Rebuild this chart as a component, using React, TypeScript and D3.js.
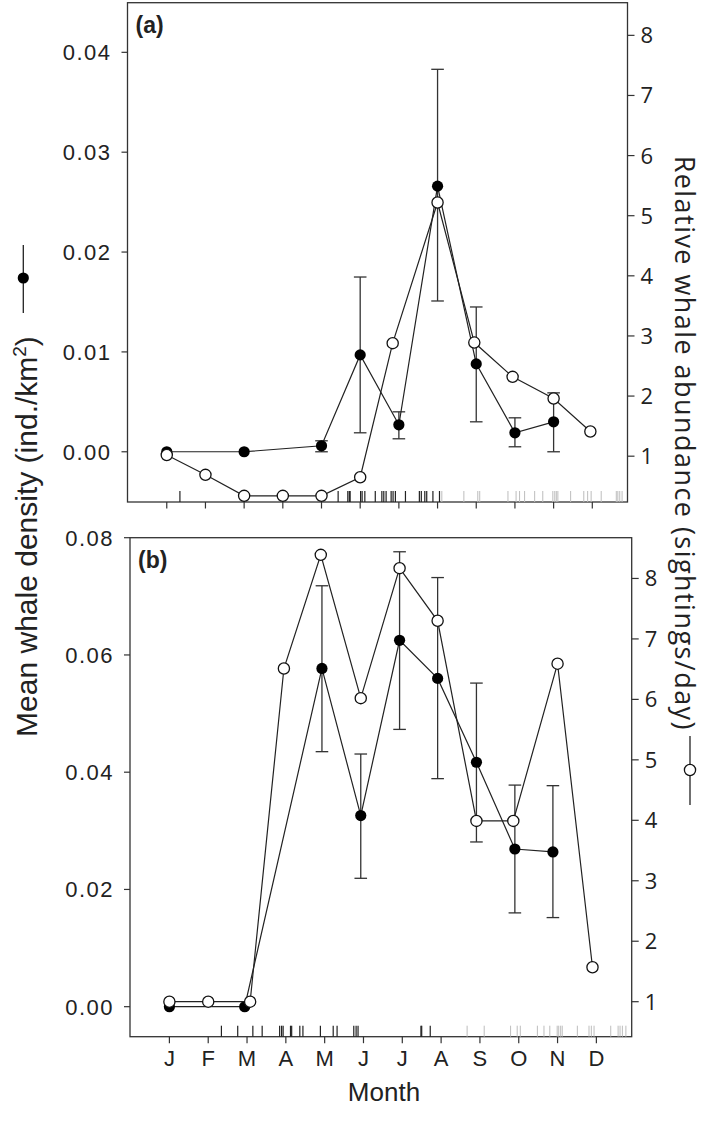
import React from 'react';
import * as d3 from 'd3';

const MONTHS = ['J', 'F', 'M', 'A', 'M', 'J', 'J', 'A', 'S', 'O', 'N', 'D'];
const MONTH_POS = [0, 1, 2, 3, 4, 5, 6, 7, 8, 9, 10, 11];

const DENS_TICKS_A = [0, 0.01, 0.02, 0.03, 0.04];
const DENS_TICKS_B = [0, 0.02, 0.04, 0.06, 0.08];
const ABUND_TICKS = [1, 2, 3, 4, 5, 6, 7, 8];

// (a) density: month position, mean, lower / upper error
const A_DENS_X = [0, 2, 4, 5, 6, 7, 8, 9, 10];
const A_DENS = [0.0, 0.0, 0.0006, 0.0097, 0.0027, 0.0266, 0.0088, 0.0019, 0.003];
const A_DENS_LO = [null, null, 0.0, 0.0019, 0.0013, 0.0151, 0.003, 0.0005, 0.0];
const A_DENS_HI = [null, null, 0.0011, 0.0175, 0.004, 0.0383, 0.0145, 0.0034, 0.0059];
// (a) sightings/day
const A_ABUND_X = [0, 1, 2, 3, 4, 5, 5.84, 7, 7.95, 8.94, 10, 10.95];
const A_ABUND = [1.02, 0.69, 0.34, 0.34, 0.34, 0.65, 2.88, 5.22, 2.89, 2.32, 1.96, 1.41];
// (a) rug (sighting dates, month position)
const A_RUG_DARK = [0.34, 4.43, 4.68, 4.72, 4.74, 5.01, 5.05, 5.12, 5.39, 5.56, 5.61, 5.67, 5.8, 5.85, 5.91, 6.17, 6.53, 6.58, 6.67, 6.72, 6.88, 7.05];
const A_RUG_LIGHT = [7.11, 7.68, 8.04, 8.09, 8.82, 9.03, 9.12, 9.25, 9.51, 9.72, 9.98, 10.03, 10.07, 10.11, 10.44, 10.78, 10.88, 10.97, 11.23, 11.62, 11.66, 11.71, 11.77];

// (b)
const B_DENS_X = [0, 1.94, 3.93, 4.93, 5.93, 6.91, 7.91, 8.9, 9.88];
const B_DENS = [0.0, 0.0, 0.0577, 0.0326, 0.0625, 0.056, 0.0417, 0.0269, 0.0264];
const B_DENS_LO = [null, null, 0.0435, 0.0219, 0.0473, 0.0389, 0.0281, 0.016, 0.0152];
const B_DENS_HI = [null, null, 0.0718, 0.0431, 0.0776, 0.0732, 0.0552, 0.0378, 0.0377];
const B_ABUND_X = [0, 1, 2.08, 2.95, 3.9, 4.93, 5.93, 6.91, 7.91, 8.86, 10, 10.9];
const B_ABUND = [1.0, 1.0, 1.0, 6.51, 8.39, 6.02, 8.17, 7.3, 3.99, 3.99, 6.59, 1.57];
const B_RUG_DARK = [1.34, 1.76, 2.15, 2.39, 2.84, 2.89, 2.93, 3.12, 3.15, 3.36, 3.44, 3.89, 4.22, 4.32, 4.75, 4.81, 4.86, 6.48, 6.5, 6.72];
const B_RUG_LIGHT = [7.67, 8.11, 8.79, 8.96, 9.04, 9.48, 9.65, 9.8, 9.99, 10.03, 10.08, 10.12, 10.51, 10.81, 10.87, 10.94, 11.37, 11.56, 11.61, 11.67, 11.76];

const X_DOMAIN = [-1.015, 11.91];
const SANS = 'Liberation Sans, Arial, Helvetica, sans-serif';
const MYRIAD = 'Open Sans, Noto Sans, sans-serif';
const INK = '#222';

type PanelProps = {
  box: { left: number; right: number; top: number; bottom: number };
  leftDomain: number[];
  rightDomain: number[];
  leftTicks: number[];
  tag: string;
  densX: number[];
  dens: number[];
  densLo: (number | null)[];
  densHi: (number | null)[];
  abundX: number[];
  abund: number[];
  rugDark: number[];
  rugLight: number[];
  monthLabels: boolean;
};

function Panel(p: PanelProps) {
  const { box } = p;
  const x = d3.scaleLinear().domain(X_DOMAIN).range([box.left, box.right]);
  const yL = d3.scaleLinear().domain(p.leftDomain).range([box.bottom, box.top]);
  const yR = d3.scaleLinear().domain(p.rightDomain).range([box.bottom, box.top]);
  const fmt = d3.format('.2f');

  const densPts = p.densX.map((m, i) => [x(m), yL(p.dens[i])] as [number, number]);
  const abundPts = p.abundX.map((m, i) => [x(m), yR(p.abund[i])] as [number, number]);
  const line = d3.line();

  return (
    <g>
      <rect x={box.left} y={box.top} width={box.right - box.left} height={box.bottom - box.top}
        fill="none" stroke="#333" strokeWidth={1.3} />
      <text x={box.left + 8} y={box.top + 30} fontFamily={SANS} fontWeight="bold" fontSize={23} fill={INK}>{p.tag}</text>

      {/* left axis */}
      {p.leftTicks.map((t) => (
        <g key={'l' + t}>
          <line x1={box.left - 6} x2={box.left} y1={yL(t)} y2={yL(t)} stroke="#333" strokeWidth={1.2} />
          <text x={box.left - 16} y={yL(t) + 8} textAnchor="end" fontFamily={SANS} fontSize={22}
            letterSpacing={1.5} fill={INK}>{fmt(t)}</text>
        </g>
      ))}

      {/* right axis */}
      {ABUND_TICKS.map((t) => (
        <g key={'r' + t}>
          <line x1={box.right} x2={box.right + 7} y1={yR(t)} y2={yR(t)} stroke="#333" strokeWidth={1.2} />
          <text x={box.right + 13} y={yR(t) + 8} fontFamily={MYRIAD} fontSize={22} fill={INK}>{t}</text>
        </g>
      ))}

      {/* bottom axis */}
      {MONTH_POS.map((m) => (
        <g key={'m' + m}>
          <line x1={x(m)} x2={x(m)} y1={box.bottom} y2={box.bottom + 6.5} stroke="#333" strokeWidth={1.2} />
          {p.monthLabels && (
            <text x={x(m)} y={box.bottom + 29} textAnchor="middle" fontFamily={SANS} fontSize={22} fill={INK}>
              {MONTHS[m]}
            </text>
          )}
        </g>
      ))}

      {/* rug */}
      {p.rugLight.map((m, i) => (
        <line key={'rl' + i} x1={x(m)} x2={x(m)} y1={box.bottom - 11} y2={box.bottom} stroke="#bdbdbd" strokeWidth={1} />
      ))}
      {p.rugDark.map((m, i) => (
        <line key={'rd' + i} x1={x(m)} x2={x(m)} y1={box.bottom - 11} y2={box.bottom} stroke="#222" strokeWidth={1.2} />
      ))}

      {/* error bars */}
      {p.densX.map((m, i) => {
        const lo = p.densLo[i];
        const hi = p.densHi[i];
        if (lo == null || hi == null) return null;
        const cx = x(m);
        return (
          <g key={'e' + i} stroke="#333" strokeWidth={1.3}>
            <line x1={cx} x2={cx} y1={yL(lo)} y2={yL(hi)} />
            <line x1={cx - 6.3} x2={cx + 6.3} y1={yL(lo)} y2={yL(lo)} />
            <line x1={cx - 6.3} x2={cx + 6.3} y1={yL(hi)} y2={yL(hi)} />
          </g>
        );
      })}

      <path d={line(densPts) || ''} fill="none" stroke={INK} strokeWidth={1.2} />
      {densPts.map(([cx, cy], i) => (
        <circle key={'d' + i} cx={cx} cy={cy} r={5.6} fill="#000" />
      ))}

      <path d={line(abundPts) || ''} fill="none" stroke={INK} strokeWidth={1.2} />
      {abundPts.map(([cx, cy], i) => (
        <circle key={'a' + i} cx={cx} cy={cy} r={5.6} fill="#fff" stroke="#111" strokeWidth={1.3} />
      ))}
    </g>
  );
}

export default function App() {
  return (
    <div>
      <style>{'body{margin:0}'}</style>
      <svg width={709} height={1121} viewBox="0 0 709 1121" style={{ display: 'block', background: '#fff' }}>
        <Panel
          box={{ left: 127.5, right: 627.5, top: 2.7, bottom: 502 }}
          leftDomain={[-0.00503, 0.04497]}
          rightDomain={[0.238, 8.543]}
          leftTicks={DENS_TICKS_A}
          tag="(a)"
          densX={A_DENS_X} dens={A_DENS} densLo={A_DENS_LO} densHi={A_DENS_HI}
          abundX={A_ABUND_X} abund={A_ABUND}
          rugDark={A_RUG_DARK} rugLight={A_RUG_LIGHT}
          monthLabels={false}
        />
        <Panel
          box={{ left: 130, right: 631.7, top: 537.7, bottom: 1036.7 }}
          leftDomain={[-0.00512, 0.08]}
          rightDomain={[0.421, 8.674]}
          leftTicks={DENS_TICKS_B}
          tag="(b)"
          densX={B_DENS_X} dens={B_DENS} densLo={B_DENS_LO} densHi={B_DENS_HI}
          abundX={B_ABUND_X} abund={B_ABUND}
          rugDark={B_RUG_DARK} rugLight={B_RUG_LIGHT}
          monthLabels={true}
        />

        {/* left axis title with legend key */}
        <text transform="translate(36.7,536.5) rotate(-90)" textAnchor="middle" fontFamily={SANS} fontSize={30} fill={INK}>
          Mean whale density (ind./km<tspan fontSize={19} dy={-11}>2</tspan><tspan dy={11}>)</tspan>
        </text>
        <line x1={23.3} x2={23.3} y1={245} y2={313} stroke={INK} strokeWidth={1.3} />
        <circle cx={23.3} cy={278} r={5.6} fill="#000" />

        {/* right axis title with legend key */}
        <text transform="translate(675,443.3) rotate(90)" textAnchor="middle" fontFamily={MYRIAD} fontSize={27}
          letterSpacing={1.45} fill={INK}>
          Relative whale abundance (sightings/day)
        </text>
        <line x1={690} x2={690} y1={736} y2={805} stroke={INK} strokeWidth={1.3} />
        <circle cx={690} cy={770} r={5.6} fill="#fff" stroke="#111" strokeWidth={1.3} />

        <text x={384} y={1101} textAnchor="middle" fontFamily={SANS} fontSize={26} fill={INK}>Month</text>
      </svg>
    </div>
  );
}
